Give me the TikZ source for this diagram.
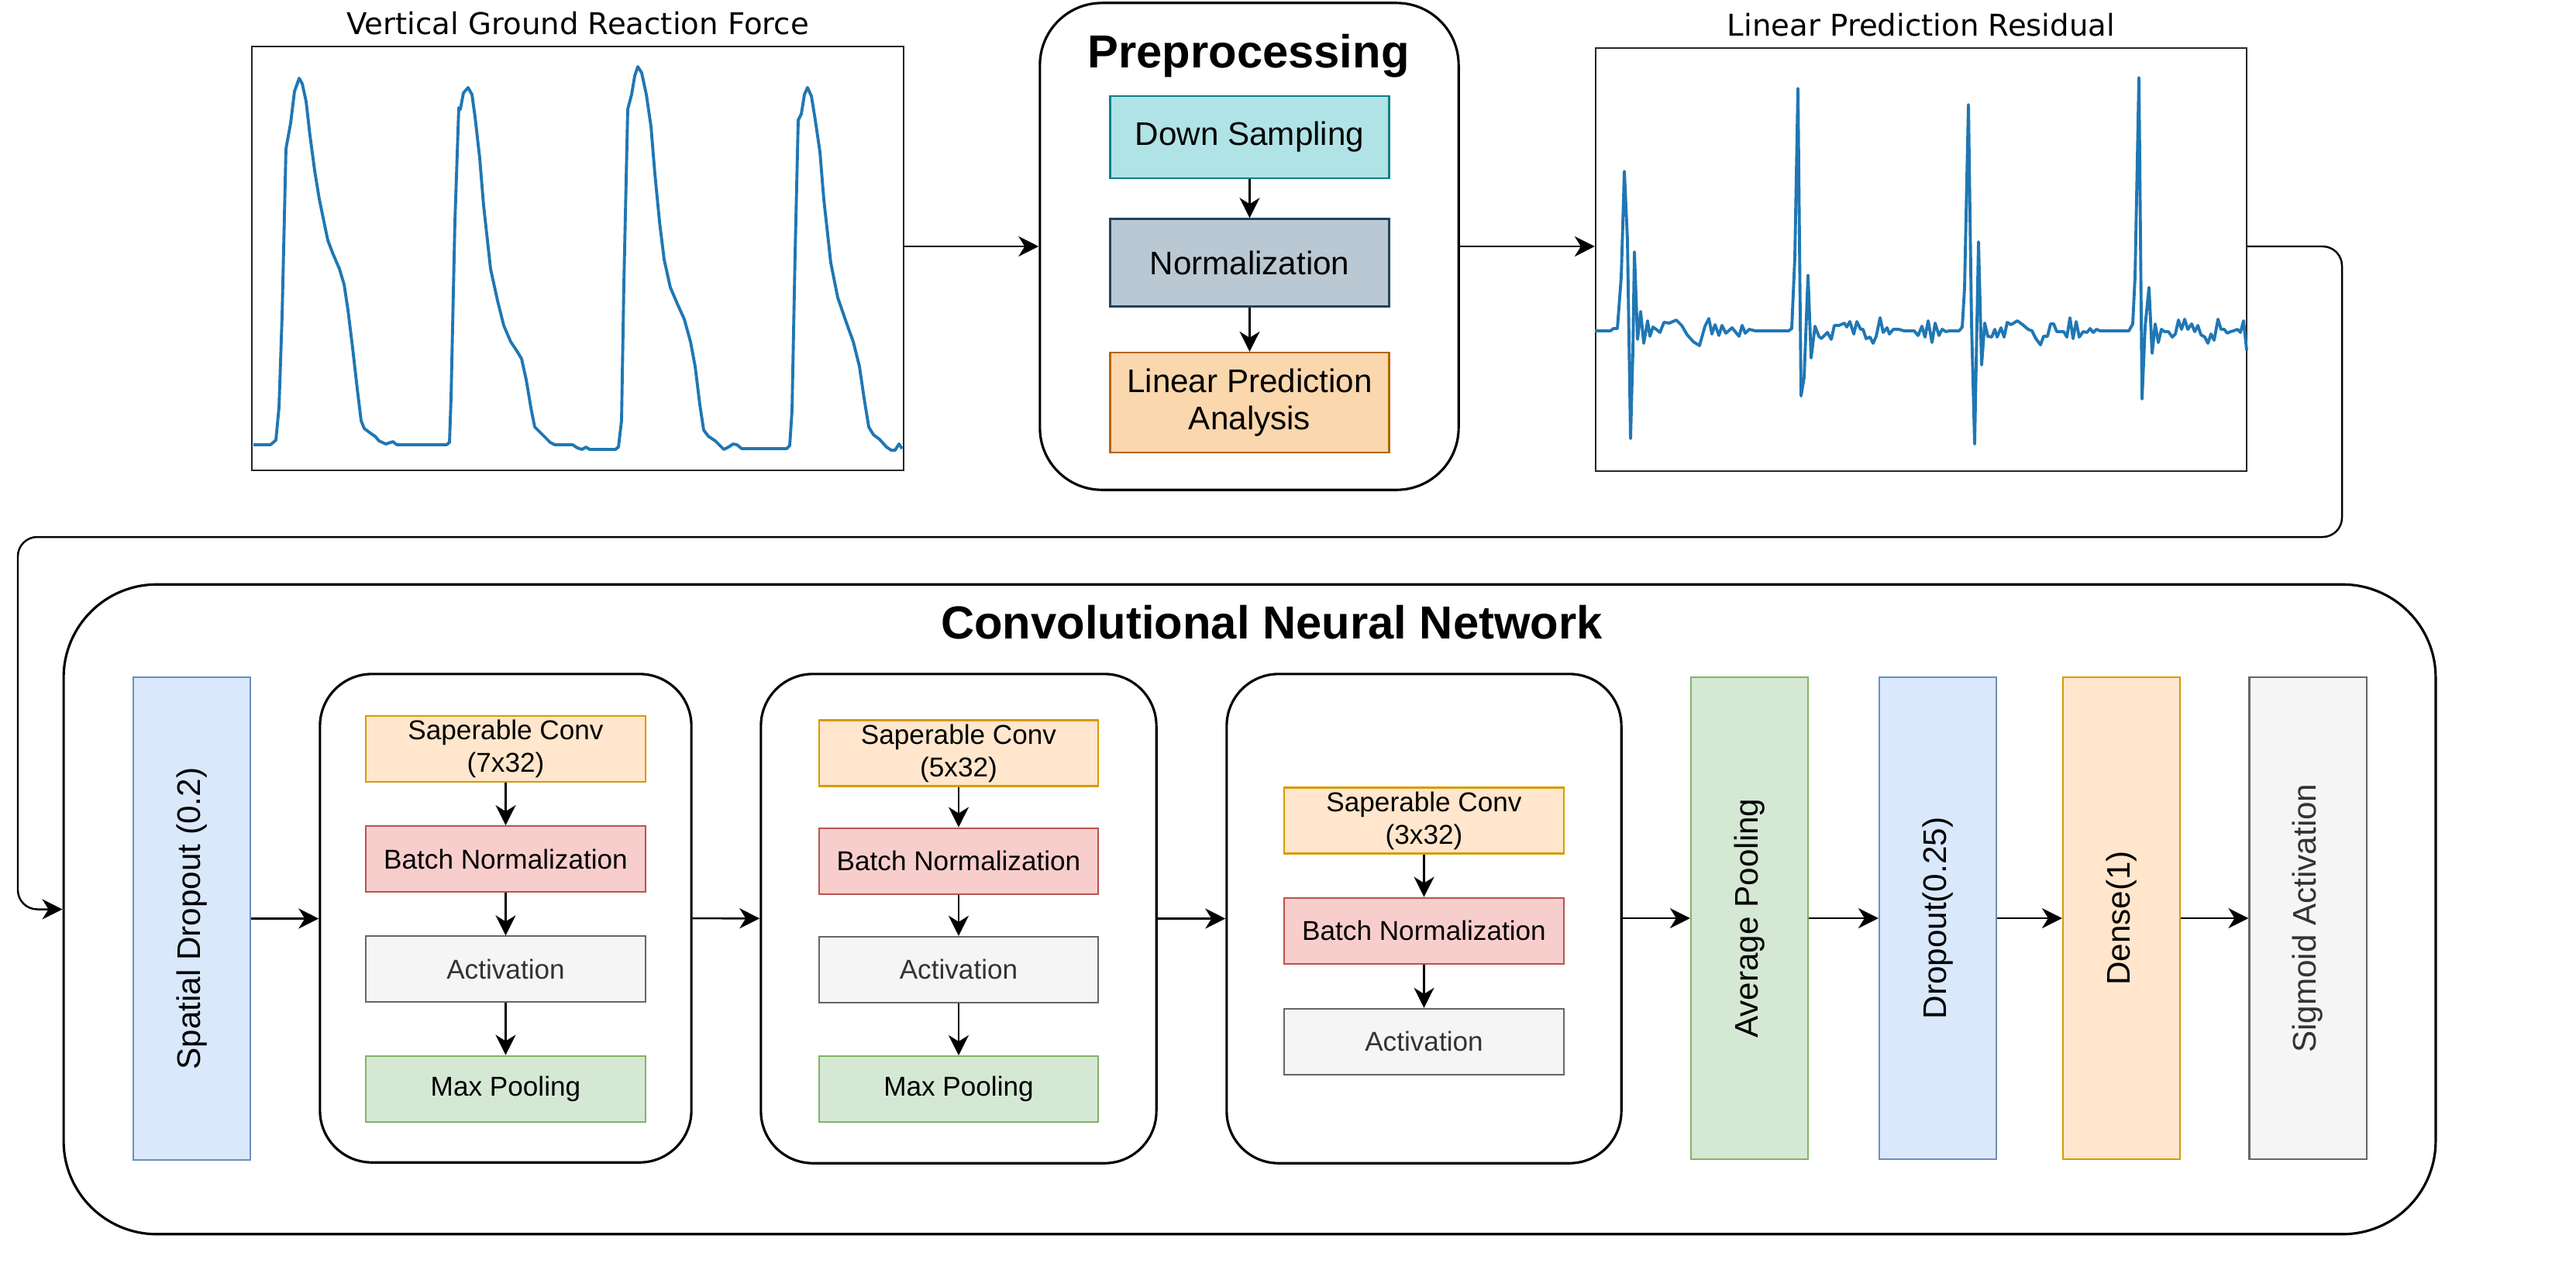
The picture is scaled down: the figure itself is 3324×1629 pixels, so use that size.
\documentclass[tikz,border=0pt]{standalone}
\usepackage{fontspec}
\setmainfont{Liberation Sans}
\newfontfamily\plotfont{DejaVu Sans}
\usetikzlibrary{arrows.meta,positioning}

\definecolor{mplblue}{HTML}{1F77B4}
\definecolor{tealfill}{HTML}{B0E3E6}
\definecolor{tealline}{HTML}{0E8088}
\definecolor{slatefill}{HTML}{BAC8D3}
\definecolor{slateline}{HTML}{23445D}
\definecolor{tanfill}{HTML}{FAD7AC}
\definecolor{tanline}{HTML}{B46504}
\definecolor{orgfill}{HTML}{FFE6CC}
\definecolor{orgline}{HTML}{D79B00}
\definecolor{redfill}{HTML}{F8CECC}
\definecolor{redline}{HTML}{B85450}
\definecolor{grayfill}{HTML}{F5F5F5}
\definecolor{grayline}{HTML}{666666}
\definecolor{graytext}{HTML}{333333}
\definecolor{grnfill}{HTML}{D5E8D4}
\definecolor{grnline}{HTML}{82B366}
\definecolor{bluefill}{HTML}{DAE8FC}
\definecolor{blueline}{HTML}{6C8EBF}

\begin{document}
\begin{tikzpicture}[x=0.01cm,y=-0.01cm,
    >={Stealth[length=0.26cm,width=0.26cm,inset=0.08cm]},
    conn/.style={->,line width=0.7pt},
    plotbox/.style={draw=black!85,line width=0.5pt,minimum width=8.4cm,minimum height=5.46cm},
    plottitle/.style={font=\plotfont\fontsize{11}{13}\selectfont,inner sep=0pt},
    container/.style={draw,line width=0.9pt,rounded corners=#1},
    heading/.style={font=\bfseries\fontsize{17}{20}\selectfont,anchor=base},
    prebox/.style={draw,line width=0.7pt,minimum width=3.6cm,align=center,
                   font=\fontsize{12}{13.5}\selectfont},
    layer/.style={draw,line width=0.6pt,minimum width=3.6cm,minimum height=0.85cm,
                  inner sep=1pt,align=center,font=\fontsize{10}{12}\selectfont},
    vlayer/.style={draw,line width=0.6pt,minimum width=1.51cm,minimum height=6.22cm,
                   font=\fontsize{12}{14}\selectfont},
    curve/.style={mplblue,line width=1.1pt,line join=round}]

  \useasboundingbox (0,0) rectangle (3324,1629);

  % input signal
  \node[plotbox] (vgrf) at (745.5,333.5) {};
  \node[plottitle,above=0.14cm of vgrf] (vgrft) {Vertical Ground Reaction Force};
  \draw[curve] plot coordinates {(327,574) (349,574) (356,568) (360,526) (364,408)
    (369,192) (375,159) (380,118) (386,101) (390,108) (395,131) (400,175) (406,220)
    (412,257) (418,286) (423,310) (429,326) (438,347) (444,367) (449,400) (455,449)
    (461,502) (466,543) (470,553) (478,559) (484,563) (489,569) (498,573) (507,570)
    (512,574) (576,574) (580,571) (582,514) (587,286) (592,139) (594,141) (598,120)
    (604,113) (609,122) (613,151) (619,204) (624,265) (633,347) (642,388) (650,420)
    (659,441) (667,453) (673,463) (679,490) (685,526) (690,551) (696,557) (702,563)
    (710,571) (716,574) (739,574) (745,578) (751,580) (756,577) (761,580) (794,580)
    (798,577) (802,543) (805,367) (810,141) (815,122) (819,98) (823,86) (828,94)
    (834,122) (840,163) (845,224) (851,286) (857,335) (865,371) (874,392) (883,412)
    (891,441) (897,473) (903,522) (908,555) (914,563) (923,569) (929,575) (934,580)
    (940,577) (946,573) (951,574) (957,579) (1015,579) (1019,575) (1022,530)
    (1026,326) (1030,155) (1034,147) (1038,122) (1042,113) (1047,124) (1052,155)
    (1058,196) (1063,257) (1072,339) (1081,384) (1092,416) (1101,441) (1109,473)
    (1115,514) (1121,551) (1127,561) (1135,567) (1144,577) (1150,581) (1155,581)
    (1160,573) (1164,579)};

  % preprocessing
  \node[container=0.8cm,minimum width=5.4cm,minimum height=6.28cm] (pre) at (1612,318) {};
  \node[heading] (pret) at (1611,87) {Preprocessing};
  \node[prebox,fill=tealfill,draw=tealline,minimum height=1.06cm] (down) at (1612.5,177) {Down Sampling};
  \node[prebox,fill=slatefill,draw=slateline,minimum height=1.13cm,below=0.5cm of down] (norm) {Normalization};
  \node[prebox,fill=tanfill,draw=tanline,minimum height=1.29cm,below=0.57cm of norm] (lpa) {Linear Prediction\\Analysis};

  % residual
  \node[plotbox] (res) at (2479,335) {};
  \node[plottitle,above=0.13cm of res] (rest) {Linear Prediction Residual};
  \draw[curve] plot coordinates {(2058,427) (2078,427) (2082,424) (2087,424) (2092,357)
    (2096,221) (2100,310) (2104,566) (2107,453) (2109,325) (2113,438) (2117,402)
    (2121,443) (2126,414) (2129,434) (2133,422) (2137,425) (2142,429) (2147,416)
    (2154,417) (2163,413) (2170,420) (2177,432) (2185,441) (2193,446) (2200,421)
    (2205,411) (2209,431) (2213,419) (2218,433) (2222,420) (2227,430) (2235,423)
    (2244,434) (2248,420) (2252,430) (2257,425) (2265,427) (2308,427) (2312,424)
    (2316,332) (2320,114) (2324,511) (2328,487) (2333,355) (2337,462) (2342,421)
    (2347,434) (2350,437) (2358,429) (2363,438) (2367,420) (2373,420) (2380,417)
    (2383,422) (2387,415) (2392,431) (2396,415) (2401,425) (2404,425) (2408,437)
    (2413,435) (2417,443) (2421,434) (2426,410) (2430,429) (2435,423) (2438,431)
    (2443,425) (2450,425) (2457,427) (2470,427) (2475,433) (2480,421) (2484,435)
    (2488,414) (2493,442) (2497,417) (2502,433) (2506,425) (2511,428) (2515,427)
    (2528,427) (2532,422) (2535,371) (2540,135) (2544,418) (2548,573) (2553,312)
    (2557,471) (2561,417) (2565,434) (2570,435) (2574,425) (2577,435) (2582,423)
    (2586,435) (2590,416) (2595,419) (2603,414) (2610,419) (2617,425) (2622,427)
    (2627,437) (2633,445) (2637,434) (2642,434) (2646,418) (2650,418) (2654,428)
    (2663,428) (2667,435) (2671,410) (2675,437) (2679,415) (2683,435) (2688,428)
    (2693,429) (2697,424) (2701,429) (2705,425) (2710,427) (2747,427) (2752,418)
    (2755,357) (2760,100) (2764,515) (2768,421) (2773,371) (2777,456) (2781,418)
    (2785,442) (2789,425) (2793,428) (2798,428) (2803,435) (2807,431) (2811,413)
    (2815,425) (2819,412) (2823,425) (2828,418) (2832,428) (2836,420) (2840,432)
    (2845,435) (2849,443) (2853,431) (2857,439) (2862,412) (2866,425) (2870,425)
    (2874,430) (2878,428) (2882,427) (2887,425) (2891,429) (2895,414) (2899,452)};

  % network
  \node[container=1.2cm,minimum width=30.59cm,minimum height=8.38cm] (cnn) at (1612.5,1173.5) {};
  \node[heading] (cnnt) at (1641,824) {Convolutional Neural Network};

  \node[vlayer,fill=bluefill,draw=blueline] (sdrop) at (247.5,1185.5) {\rotatebox{90}{Spatial Dropout (0.2)}};

  \node[container=0.67cm,minimum width=4.79cm,minimum height=6.3cm] (blk1) at (652.5,1185) {};
  \node[layer,fill=orgfill,draw=orgline] (conv1) at (652.5,966.5) {Saperable Conv\\(7x32)};
  \node[layer,fill=redfill,draw=redline,below=0.55cm of conv1] (bn1) {Batch Normalization};
  \node[layer,fill=grayfill,draw=grayline,text=graytext,below=0.55cm of bn1] (act1) {Activation};
  \node[layer,fill=grnfill,draw=grnline,below=0.67cm of act1] (pool1) {Max Pooling};

  \node[container=0.67cm,minimum width=5.1cm,minimum height=6.31cm] (blk2) at (1237,1185.5) {};
  \node[layer,fill=orgfill,draw=orgline] (conv2) at (1237,972) {Saperable Conv\\(5x32)};
  \node[layer,fill=redfill,draw=redline,below=0.52cm of conv2] (bn2) {Batch Normalization};
  \node[layer,fill=grayfill,draw=grayline,text=graytext,below=0.53cm of bn2] (act2) {Activation};
  \node[layer,fill=grnfill,draw=grnline,below=0.67cm of act2] (pool2) {Max Pooling};

  \node[container=0.67cm,minimum width=5.09cm,minimum height=6.31cm] (blk3) at (1837.5,1185.5) {};
  \node[layer,fill=orgfill,draw=orgline] (conv3) at (1837.5,1059) {Saperable Conv\\(3x32)};
  \node[layer,fill=redfill,draw=redline,below=0.55cm of conv3] (bn3) {Batch Normalization};
  \node[layer,fill=grayfill,draw=grayline,text=graytext,below=0.56cm of bn3] (act3) {Activation};

  \node[vlayer,fill=grnfill,draw=grnline] (avg) at (2257.5,1185) {\rotatebox{90}{Average Pooling}};
  \node[vlayer,fill=bluefill,draw=blueline] (drop) at (2500.5,1185) {\rotatebox{90}{Dropout(0.25)}};
  \node[vlayer,fill=orgfill,draw=orgline] (dense) at (2737.5,1185) {\rotatebox{90}{Dense(1)}};
  \node[vlayer,fill=grayfill,draw=grayline,text=graytext] (sig) at (2978,1185) {\rotatebox{90}{Sigmoid Activation}};

  % connectors
  \draw[conn] (vgrf.east |- pre.west) -- (pre.west);
  \draw[conn] (pre.east) -- (pre.east -| res.west);
  \coordinate (turnR) at (3022,693);
  \coordinate (turnL) at (23,693);
  \draw[conn,rounded corners=0.25cm] (res.east |- pre.east) -| (turnR) -- (turnL) |- (cnn.west);

  \path[conn] (down) edge (norm)
              (norm) edge (lpa)
              (conv1) edge (bn1)
              (bn1) edge (act1)
              (act1) edge (pool1)
              (conv2) edge (bn2)
              (bn2) edge (act2)
              (act2) edge (pool2)
              (conv3) edge (bn3)
              (bn3) edge (act3);

  \path[conn] (sdrop.east) edge (sdrop.east -| blk1.west)
              (blk1) edge (blk2)
              (blk2) edge (blk3)
              (blk3.east |- avg.west) edge (avg.west)
              (avg) edge (drop)
              (drop) edge (dense)
              (dense) edge (sig);
\end{tikzpicture}
\end{document}
